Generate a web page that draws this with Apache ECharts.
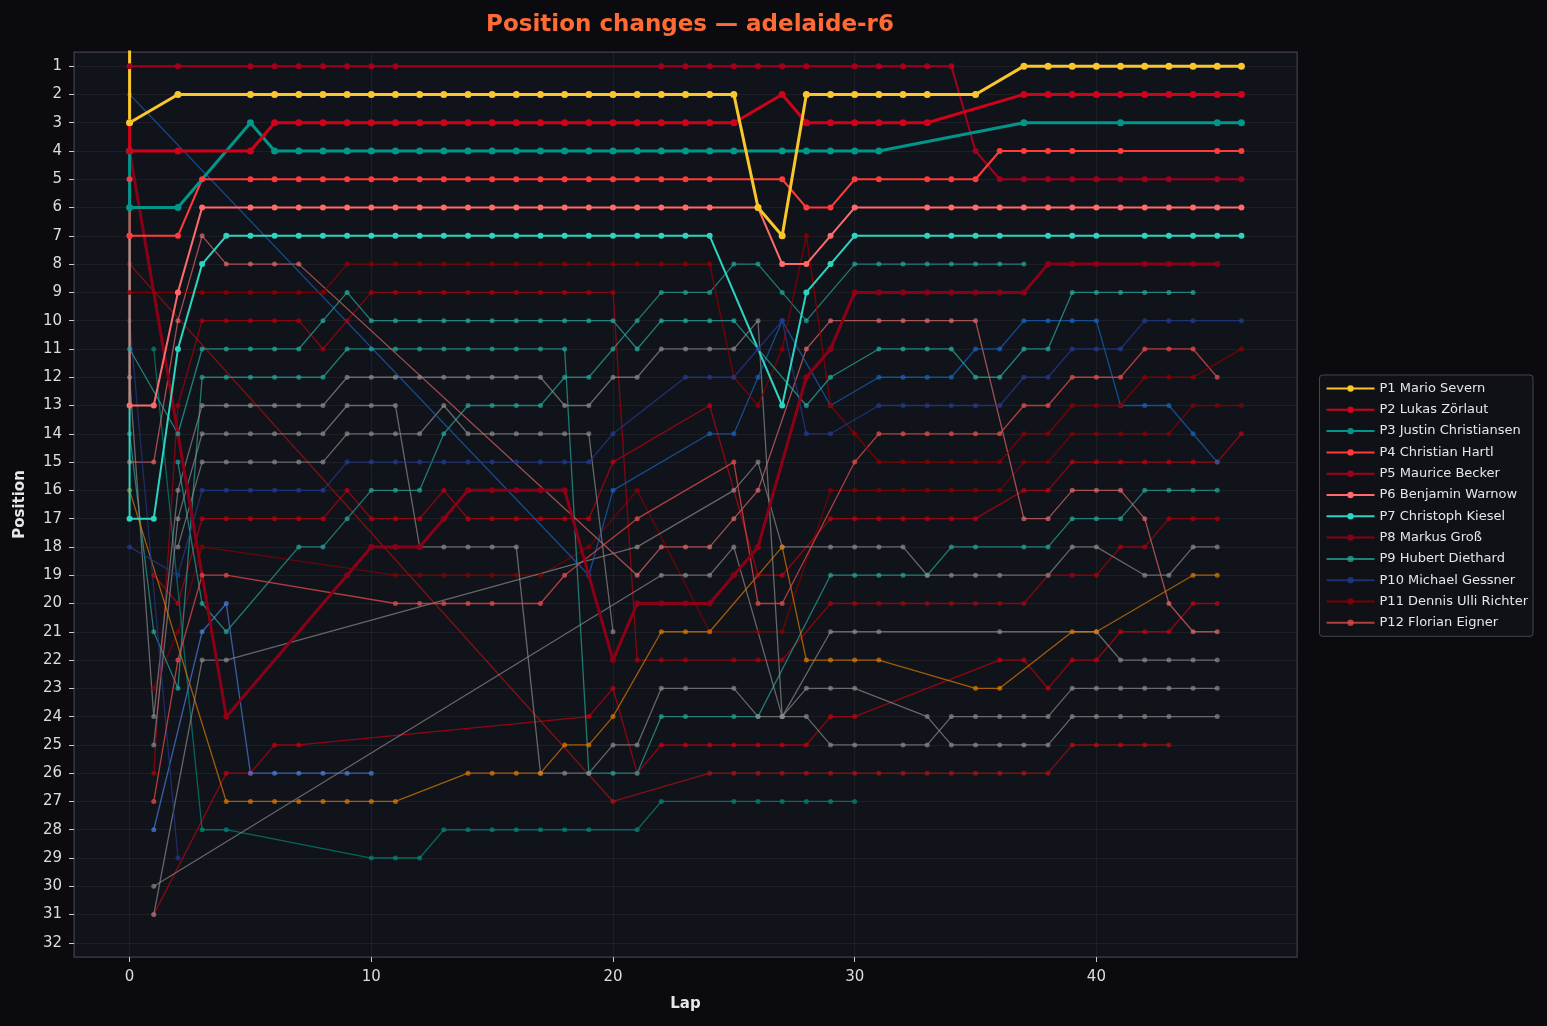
<!DOCTYPE html>
<html><head><meta charset="utf-8">
<script src="https://cdn.jsdelivr.net/npm/echarts@6/dist/echarts.min.js"></script>
<style>html,body{margin:0;padding:0;background:#0b0b0f;}#c{width:1547px;height:1026px;}</style>
</head><body><div id="c"></div>
<script>
// ---- data: [lap, position] per driver ----
const p1 = [[0,0],[0,3],[2,2],[5,2],[6,2],[7,2],[8,2],[9,2],[10,2],[11,2],[12,2],[13,2],[14,2],[15,2],[16,2],[17,2],[18,2],[19,2],[20,2],[21,2],[22,2],[23,2],[24,2],[25,2],[26,6],[27,7],[28,2],[29,2],[30,2],[31,2],[32,2],[33,2],[35,2],[37,1],[38,1],[39,1],[40,1],[41,1],[42,1],[43,1],[44,1],[45,1],[46,1]];
const p2 = [[0,3],[0,4],[2,4],[5,4],[6,3],[7,3],[8,3],[9,3],[10,3],[11,3],[12,3],[13,3],[14,3],[15,3],[16,3],[17,3],[18,3],[19,3],[20,3],[21,3],[22,3],[23,3],[24,3],[25,3],[27,2],[28,3],[29,3],[30,3],[31,3],[32,3],[33,3],[37,2],[38,2],[39,2],[40,2],[41,2],[42,2],[43,2],[44,2],[45,2],[46,2]];
const p3 = [[0,4],[0,6],[2,6],[5,3],[6,4],[7,4],[8,4],[9,4],[10,4],[11,4],[12,4],[13,4],[14,4],[15,4],[16,4],[17,4],[18,4],[19,4],[20,4],[21,4],[22,4],[23,4],[24,4],[25,4],[27,4],[28,4],[29,4],[30,4],[31,4],[37,3],[41,3],[45,3],[46,3]];
const p4 = [[0,5],[0,7],[2,7],[3,5],[5,5],[6,5],[7,5],[8,5],[9,5],[10,5],[11,5],[12,5],[13,5],[14,5],[15,5],[16,5],[17,5],[18,5],[19,5],[20,5],[21,5],[22,5],[23,5],[24,5],[27,5],[28,6],[29,6],[30,5],[31,5],[33,5],[34,5],[35,5],[36,4],[37,4],[38,4],[39,4],[41,4],[45,4],[46,4]];
const p5 = [[0,1],[2,1],[5,1],[6,1],[7,1],[8,1],[9,1],[10,1],[11,1],[22,1],[23,1],[24,1],[25,1],[26,1],[27,1],[28,1],[30,1],[31,1],[32,1],[33,1],[34,1],[35,4],[36,5],[37,5],[38,5],[39,5],[40,5],[41,5],[42,5],[43,5],[45,5],[46,5]];
const p6 = [[0,7],[0,13],[1,13],[2,9],[3,6],[5,6],[6,6],[7,6],[8,6],[9,6],[10,6],[11,6],[12,6],[13,6],[14,6],[15,6],[16,6],[17,6],[18,6],[19,6],[20,6],[21,6],[22,6],[23,6],[24,6],[26,6],[27,8],[28,8],[29,7],[30,6],[33,6],[34,6],[35,6],[36,6],[37,6],[38,6],[39,6],[40,6],[41,6],[42,6],[43,6],[44,6],[45,6],[46,6]];
const p7 = [[0,6],[0,17],[1,17],[2,11],[3,8],[4,7],[5,7],[6,7],[7,7],[8,7],[9,7],[10,7],[11,7],[12,7],[13,7],[14,7],[15,7],[16,7],[17,7],[18,7],[19,7],[20,7],[21,7],[22,7],[23,7],[24,7],[27,13],[28,9],[29,8],[30,7],[33,7],[34,7],[35,7],[36,7],[38,7],[39,7],[40,7],[42,7],[43,7],[44,7],[45,7],[46,7]];
const p8 = [[0,4],[4,24],[9,19],[10,18],[11,18],[12,18],[13,17],[14,16],[15,16],[16,16],[17,16],[18,16],[20,22],[21,20],[22,20],[23,20],[24,20],[25,19],[26,18],[28,12],[29,11],[30,9],[31,9],[32,9],[33,9],[34,9],[35,9],[36,9],[37,9],[38,8],[39,8],[40,8],[42,8],[43,8],[44,8],[45,8]];
const p9 = [[0,11],[2,14],[3,11],[4,11],[5,11],[6,11],[7,11],[8,10],[9,9],[10,10],[11,10],[12,10],[13,10],[14,10],[15,10],[16,10],[17,10],[18,10],[19,10],[20,10],[21,11],[22,10],[23,10],[24,10],[25,10],[28,13],[29,12],[31,11],[32,11],[33,11],[34,11],[35,12],[36,12],[37,11],[38,11],[39,9],[40,9],[41,9],[42,9],[43,9],[44,9]];
const p10 = [[0,18],[2,19],[3,16],[4,16],[5,16],[6,16],[7,16],[8,16],[9,15],[10,15],[11,15],[12,15],[13,15],[14,15],[15,15],[16,15],[17,15],[18,15],[19,15],[20,14],[23,12],[24,12],[25,12],[26,11],[27,10],[28,14],[29,14],[31,13],[32,13],[33,13],[34,13],[35,13],[36,13],[37,12],[38,12],[39,11],[40,11],[41,11],[42,10],[43,10],[44,10],[46,10]];
const p11 = [[0,9],[3,9],[4,9],[5,9],[6,9],[7,9],[8,9],[9,8],[10,8],[11,8],[12,8],[13,8],[14,8],[15,8],[16,8],[17,8],[18,8],[19,8],[20,8],[21,8],[22,8],[23,8],[24,8],[25,12],[26,13],[27,11],[28,7],[29,13],[30,14],[31,15],[32,15],[33,15],[34,15],[35,15],[36,15],[37,14],[38,14],[39,13],[40,13],[41,13],[42,12],[43,12],[44,12],[46,11]];
const p12 = [[1,27],[2,22],[3,19],[4,19],[11,20],[12,20],[13,20],[14,20],[15,20],[17,20],[18,19],[21,17],[25,15],[26,20],[27,20],[30,15],[31,14],[32,14],[33,14],[34,14],[35,14],[36,14],[37,13],[38,13],[39,12],[40,12],[41,12],[42,11],[43,11],[44,11],[45,12]];
// other cars (not in legend)
const carM16 = [[1,23],[2,21],[3,18],[11,19],[12,19],[13,19],[14,19],[15,19],[16,19],[17,19],[19,18],[21,16],[24,21],[26,21],[27,21],[29,16],[30,16],[31,16],[32,16],[33,16],[34,16],[35,16],[36,16],[37,15],[38,15],[39,14],[40,14],[41,14],[42,14],[43,14],[44,13],[45,13],[46,13]];
const carR17 = [[1,19],[2,20],[3,17],[4,17],[5,17],[6,17],[7,17],[8,17],[9,16],[10,17],[11,17],[12,17],[13,16],[14,17],[15,17],[16,17],[17,17],[18,17],[19,17],[20,15],[24,13],[26,19],[27,19],[29,17],[30,17],[31,17],[32,17],[33,17],[34,17],[35,17],[37,16],[38,16],[39,15],[40,15],[41,15],[42,15],[43,15],[44,15],[45,15],[46,14]];
const carD9 = [[1,26],[2,13],[3,10],[4,10],[5,10],[6,10],[7,10],[8,11],[9,10],[10,9],[11,9],[12,9],[13,9],[14,9],[15,9],[16,9],[17,9],[18,9],[19,9],[20,9],[21,22],[22,22],[23,22],[25,22],[26,22],[27,22],[29,20],[30,20],[31,20],[32,20],[33,20],[34,20],[35,20],[36,20],[37,20],[38,19],[39,19],[40,19],[41,18],[42,18],[43,17],[44,17],[45,17]];
const carR24 = [[1,31],[4,26],[5,26],[6,25],[7,25],[19,24],[20,23],[21,26],[22,25],[23,25],[24,25],[25,25],[26,25],[27,25],[28,25],[29,24],[30,24],[36,22],[37,22],[38,23],[39,22],[40,22],[41,21],[42,21],[43,21],[44,20],[45,20]];
const carR26 = [[0,8],[20,27],[24,26],[25,26],[26,26],[27,26],[28,26],[29,26],[30,26],[31,26],[32,26],[33,26],[34,26],[35,26],[36,26],[37,26],[38,26],[39,25],[40,25],[41,25],[42,25],[43,25]];
const carT8 = [[2,15],[3,20],[4,21],[7,18],[8,18],[9,17],[10,16],[11,16],[12,16],[13,14],[14,13],[15,13],[16,13],[17,13],[18,12],[19,12],[20,11],[21,10],[22,9],[23,9],[24,9],[25,8],[26,8],[27,9],[28,10],[30,8],[31,8],[32,8],[33,8],[34,8],[35,8],[36,8],[37,8]];
const carT11 = [[0,14],[1,21],[2,23],[3,12],[4,12],[5,12],[6,12],[7,12],[8,12],[9,11],[10,11],[11,11],[12,11],[13,11],[14,11],[15,11],[16,11],[17,11],[18,11],[19,26],[20,26],[21,26],[22,24],[23,24],[25,24],[26,24],[29,19],[30,19],[31,19],[32,19],[33,19],[34,18],[35,18],[37,18],[38,18],[39,17],[40,17],[41,17],[42,16],[43,16],[44,16],[45,16]];
const carT27 = [[1,11],[3,28],[4,28],[10,29],[11,29],[12,29],[13,28],[14,28],[15,28],[16,28],[17,28],[18,28],[19,28],[21,28],[22,27],[25,27],[26,27],[27,27],[28,27],[29,27],[30,27]];
const carPK = [[0,15],[1,15],[2,10],[3,7],[4,8],[5,8],[6,8],[7,8],[21,19],[22,18],[23,18],[24,18],[25,17],[26,16],[28,11],[29,10],[31,10],[32,10],[33,10],[34,10],[35,10],[37,17],[38,17],[39,16],[40,16],[41,16],[42,17],[43,20],[44,21],[45,21]];
const carG12 = [[0,12],[1,24],[2,16],[3,13],[4,13],[5,13],[6,13],[7,13],[8,13],[9,12],[10,12],[11,12],[12,12],[13,12],[14,12],[15,12],[16,12],[17,12],[18,13],[19,13],[20,12],[21,12],[22,11],[23,11],[24,11],[25,11],[26,10],[27,24],[28,24],[29,25],[30,25],[32,25],[33,25],[34,24],[35,24],[36,24],[37,24],[38,24],[39,23],[40,23],[41,23],[42,23],[43,23],[44,23],[45,23]];
const carG13 = [[1,25],[2,17],[3,14],[4,14],[5,14],[6,14],[7,14],[8,14],[9,13],[10,13],[11,13],[12,18],[13,18],[14,18],[15,18],[16,18],[17,26],[18,26],[19,26],[20,25],[21,25],[22,23],[23,23],[25,23],[26,24],[27,24],[28,23],[29,23],[30,23],[33,24],[34,25],[35,25],[36,25],[37,25],[38,25],[39,24],[40,24],[41,24],[42,24],[43,24],[45,24]];
const carG14 = [[2,18],[3,15],[4,15],[5,15],[6,15],[7,15],[8,15],[9,14],[10,14],[11,14],[12,14],[13,13],[14,14],[15,14],[16,14],[17,14],[18,14],[19,14],[20,21]];
const carGA = [[1,30],[22,19],[23,19],[24,19],[25,18],[27,24],[29,21],[30,21],[31,21],[36,21],[40,21],[41,22],[42,22],[43,22],[44,22],[45,22]];
const carGB = [[1,31],[3,22],[4,22],[21,18],[25,16],[26,15],[27,18],[29,18],[30,18],[31,18],[32,18],[33,19],[34,19],[35,19],[36,19],[38,19],[39,18],[40,18],[42,19],[43,19],[44,18],[45,18]];
const carOR = [[0,16],[4,27],[5,27],[6,27],[7,27],[8,27],[9,27],[10,27],[11,27],[14,26],[15,26],[16,26],[17,26],[18,25],[19,25],[20,24],[22,21],[23,21],[24,21],[27,18],[28,22],[29,22],[30,22],[31,22],[35,23],[36,23],[39,21],[40,21],[44,19],[45,19]];
const carSB = [[0,2],[19,19],[20,16],[24,14],[25,14],[26,12],[27,10],[29,13],[31,12],[32,12],[33,12],[34,12],[35,11],[36,11],[37,10],[38,10],[39,10],[40,10],[41,13],[42,13],[43,13],[44,14],[45,15]];
const carBL = [[1,28],[3,21],[4,20],[5,26],[6,26],[7,26],[8,26],[9,26],[10,26]];
const carNV = [[0,10],[2,29]];

const legendNames = ['P1 Mario Severn','P2 Lukas Zörlaut','P3 Justin Christiansen','P4 Christian Hartl','P5 Maurice Becker','P6 Benjamin Warnow','P7 Christoph Kiesel','P8 Markus Groß','P9 Hubert Diethard','P10 Michael Gessner','P11 Dennis Ulli Richter','P12 Florian Eigner'];
const xTicks = [0,10,20,30,40];

// ---- styling table ----
const main = [
  {d:p1, c:'#f9c62c', w:3, s:7},
  {d:p2, c:'#d0021b', w:3, s:7},
  {d:p3, c:'#00968a', w:3, s:7},
  {d:p4, c:'#ff3b3b', w:2, s:6},
  {d:p5, c:'#a3001e', w:2, s:6},
  {d:p6, c:'#ff6b6b', w:2, s:6},
  {d:p7, c:'#2dd4bf', w:2, s:6},
  {d:p8, c:'#8b0016', w:3, s:6},
  {d:p9, c:'#26a69a', w:1.3, s:5, o:0.75},
  {d:p10, c:'#22388a', w:1.3, s:5, o:0.8},
  {d:p11, c:'#8b0000', w:1.3, s:5, o:0.85},
  {d:p12, c:'#d94848', w:1.3, s:5, o:0.8}
];
const others = [
  {d:carM16, c:'#8b0000'}, {d:carR17, c:'#c4000f'}, {d:carD9, c:'#b0000c'},
  {d:carR24, c:'#c80010'}, {d:carR26, c:'#b31010'},
  {d:carT8, c:'#26a69a'}, {d:carT11, c:'#26a69a'}, {d:carT27, c:'#00897b'},
  {d:carPK, c:'#e06a6a'},
  {d:carG12, c:'#8a8a8a'}, {d:carG13, c:'#8a8a8a'}, {d:carG14, c:'#8a8a8a'}, {d:carGA, c:'#8a8a8a'}, {d:carGB, c:'#8a8a8a'},
  {d:carOR, c:'#e07b00'}, {d:carSB, c:'#1565c0'}, {d:carBL, c:'#4a7fe0'}, {d:carNV, c:'#22388a'}
];

const series = [];
others.forEach((o,i)=>{
  series.push({type:'line', name:'car'+i, data:o.d, symbol:'circle', symbolSize:5,
    lineStyle:{color:o.c, width:1.3, opacity:0.7}, itemStyle:{color:o.c, opacity:0.7},
    emphasis:{disabled:true}, silent:true, clip:true, z:2});
});
for (let i=main.length-1;i>=0;i--){
  const m = main[i];
  series.push({type:'line', name:legendNames[i], data:m.d, symbol:'circle', symbolSize:m.s,
    lineStyle:{color:m.c, width:m.w, opacity:m.o||1}, itemStyle:{color:m.c, opacity:m.o||1},
    emphasis:{disabled:true}, silent:true, clip:true, z:3});
}

const chart = echarts.init(document.getElementById('c'));
chart.setOption({
  backgroundColor:'#0b0b0f',
  animation:false,
  textStyle:{fontFamily:'DejaVu Sans'},
  title:{text:'Position changes — adelaide-r6', left:685, top:9, textAlign:'center',
    textStyle:{color:'#ff6b35', fontSize:23, fontWeight:'bold', fontFamily:'DejaVu Sans'}},
  grid:{left:74, right:250, top:52, bottom:69, show:true, backgroundColor:'#11131a', borderColor:'#2f323b', borderWidth:1.5},
  legend:{data:legendNames, orient:'vertical', right:14, top:375, itemWidth:48, itemHeight:8, itemGap:8.3,
    backgroundColor:'#0f1117', borderColor:'#44474f', borderWidth:1, borderRadius:3, padding:[7,5,7,6],
    textStyle:{color:'#e6e6e6', fontSize:13, fontFamily:'DejaVu Sans'}, selectedMode:false},
  xAxis:{type:'value', min:-2.3, max:48.3, splitNumber:5, minInterval:10, maxInterval:10,
    name:'Lap', nameLocation:'middle', nameGap:40,
    nameTextStyle:{color:'#e6e6e6', fontSize:15, fontWeight:'bold'},
    axisLine:{show:false, onZero:false}, axisTick:{show:true, length:5, lineStyle:{color:'#cccccc'}},
    axisLabel:{color:'#dddddd', fontSize:15, margin:13, showMinLabel:false, showMaxLabel:false,
      formatter:v=> xTicks.indexOf(Math.round(v))>=0 && Math.abs(v-Math.round(v))<1e-6 ? String(Math.round(v)) : ''},
    splitLine:{show:true, lineStyle:{color:'rgba(255,255,255,0.05)', width:1}}},
  yAxis:{type:'value', inverse:true, min:0.5, max:32.5, splitNumber:32, minInterval:1, maxInterval:1,
    name:'Position', nameLocation:'middle', nameGap:46, nameRotate:90,
    nameTextStyle:{color:'#e6e6e6', fontSize:15, fontWeight:'bold'},
    axisLine:{show:false, onZero:false}, axisTick:{show:true, length:5, lineStyle:{color:'#cccccc'}},
    axisLabel:{color:'#dddddd', fontSize:15, margin:12, showMinLabel:false, showMaxLabel:false,
      formatter:v=> Math.abs(v-Math.round(v))<1e-6 ? String(Math.round(v)) : ''},
    splitLine:{show:true, lineStyle:{color:'rgba(255,255,255,0.05)', width:1}}},
  series:series
});
</script></body></html>
